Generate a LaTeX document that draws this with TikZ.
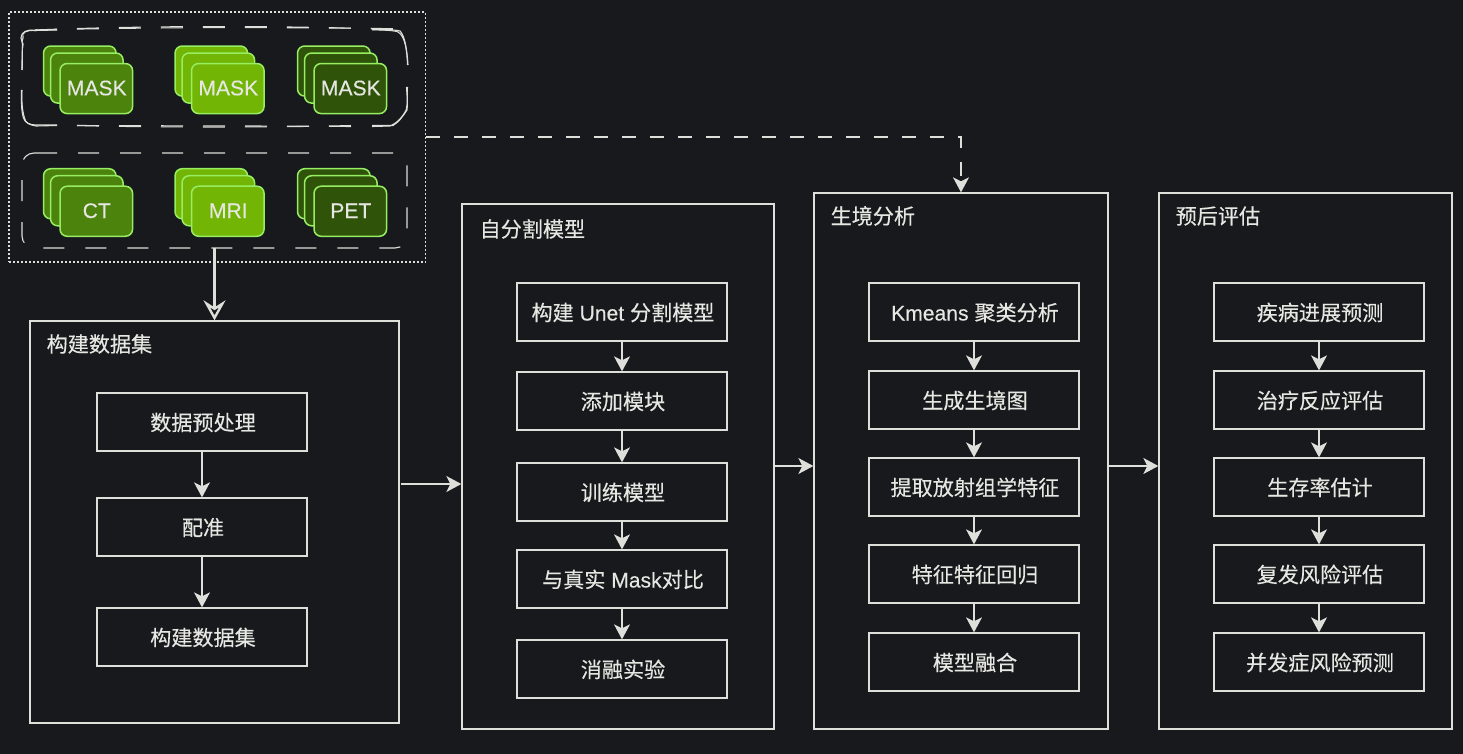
\documentclass[tikz,border=0pt]{standalone}
\usepackage{fontspec}
\setmainfont{Liberation Sans}[UprightFeatures={FakeBold=0.25}]
\newfontfamily\cjk{Noto Sans CJK SC}[UprightFeatures={FakeBold=0.3}]
\newcommand{\zh}[1]{{\cjk #1}}
\usetikzlibrary{arrows.meta}
\definecolor{pagebg}{HTML}{18191C}
\definecolor{inkline}{HTML}{DEDEDA}
\definecolor{inktext}{HTML}{E6E6E2}
\definecolor{limeedge}{HTML}{97EE62}
\definecolor{limemid}{HTML}{4B830D}
\definecolor{limelight}{HTML}{72B505}
\definecolor{limedark}{HTML}{2F5409}
\tikzset{
  every node/.style={font=\fontsize{21.1}{25}\selectfont, text=inktext},
  panelbox/.style={draw=inkline, line width=1.3pt, inner sep=0pt},
  stepbox/.style={draw=inkline, line width=1.3pt, minimum width=210pt, minimum height=58pt, inner sep=0pt, text height=19pt, text depth=2pt, execute at begin node={\hspace*{2pt}}},
  paneltitle/.style={anchor=west, inner sep=0pt, text height=20pt, text depth=2pt},
  scanbox/.style={draw=limeedge, line width=1.5pt, rounded corners=7pt, minimum width=72.5pt, minimum height=50pt, inner sep=0pt, text height=13.5pt, text depth=0pt, execute at begin node={\hspace*{1pt}}},
  flow/.style={draw=inkline, line width=1.2pt, -{Stealth[length=15pt,width=16pt,inset=4pt]}},
  sketchline/.style={draw=inkline, line width=1.1pt},
  sketchdash/.style={sketchline, dash pattern=on 22pt off 20pt},
}
\begin{document}
\begin{tikzpicture}[x=1pt,y=1pt,yscale=-1,xscale=1]
  \useasboundingbox (0,0) rectangle (1463,754);
  \fill[pagebg] (0,0) rectangle (1463,754);
  % dotted group
  \node[draw=inkline, line width=1.4pt, dash pattern=on 1.6pt off 2.4pt, minimum width=416.5pt, minimum height=250pt, inner sep=0pt] (frameOuter) at (217.25,137) {};
  % sketchy dashed group, two strokes each
  \foreach \jit in {0,1} {
    \draw[sketchdash] (35,30) .. controls (150,25.5+\jit*1.6) and (280,25.5+\jit*1.6) .. (393,29.5-\jit*0.8);
    \draw[sketchdash] (77,125.5) .. controls (150,127.5-\jit*1.6) and (280,127.5-\jit*1.6) .. (352,125.5+\jit*1);
    \draw[sketchline] (372,29.5+\jit*0.3) .. controls (385,30) and (395,29.5+\jit) .. (400-\jit*2,31+\jit) .. controls (405,36) and (407,50) .. (408-\jit*0.5,65);
    \draw[sketchline] (407.5-\jit,87) .. controls (407,95) and (408,103) .. (407-\jit*0.8,110) .. controls (403,116) and (399,122) .. (393-\jit*3,125.5+\jit*0.5) -- (372,125.5+\jit);
    \draw[sketchline] (21.5+\jit*0.5,90) .. controls (21.5,100) and (21+\jit,110) .. (23.5+\jit,118) .. controls (25,123) and (30,125) .. (36,125+\jit) -- (57,125+\jit*0.5);
    \draw[sketchline] (57,30-\jit*0.5) -- (35,30.5) .. controls (27,29+\jit) and (21,32) .. (21+\jit*2,38) .. controls (22-\jit,44) and (24-\jit,42) .. (22.5,47) .. controls (22,55) and (22+\jit,62) .. (22,70);
  }
  \draw[draw=inkline, line width=1.1pt, dash pattern=on 21pt off 21pt, rounded corners=12pt] (36,153) -- (407,153) -- (407,248) -- (22,248) -- (22,153) -- (36,153);
  % image stacks
  \foreach \stackname/\xleft/\ytop/\fillcol/\stacktext in {
    maskA/42.8/45.3/limemid/MASK, maskB/174.3/45.3/limelight/MASK, maskC/296.8/45.3/limedark/MASK,
    scanA/42.8/168/limemid/CT, scanB/174.3/168/limelight/MRI, scanC/296.8/168/limedark/PET} {
    \node[scanbox, fill=\fillcol, anchor=north west] (\stackname-back) at (\xleft,\ytop) {};
    \node[scanbox, fill=\fillcol, anchor=north west] (\stackname-mid) at (\xleft+7,\ytop+7) {};
    \node[scanbox, fill=\fillcol, anchor=north west] (\stackname-front) at (\xleft+16.5,\ytop+17.5) {\stacktext};
  }
  % panels
  \node[panelbox, minimum width=369pt, minimum height=402pt] (panelData) at (214.5,522) {};
  \node[panelbox, minimum width=312pt, minimum height=525pt] (panelSeg) at (618,466.5) {};
  \node[panelbox, minimum width=294pt, minimum height=536pt] (panelHab) at (961,461) {};
  \node[panelbox, minimum width=293pt, minimum height=536pt] (panelProg) at (1305.5,461) {};
  \node[paneltitle] (titleData) at (46.5,343) {\zh{构建数据集}};
  \node[paneltitle] (titleSeg) at (479.5,228) {\zh{自分割模型}};
  \node[paneltitle] (titleHab) at (830.5,215) {\zh{生境分析}};
  \node[paneltitle] (titleProg) at (1175.5,215) {\zh{预后评估}};
  % steps
  \node[stepbox] (dataA) at (202,422) {\zh{数据预处理}};
  \node[stepbox] (dataB) at (202,527) {\zh{配准}};
  \node[stepbox] (dataC) at (202,637) {\zh{构建数据集}};
  \node[stepbox] (segA) at (622,312) {\zh{构建} Unet \zh{分割模型}};
  \node[stepbox] (segB) at (622,401) {\zh{添加模块}};
  \node[stepbox] (segC) at (622,492) {\zh{训练模型}};
  \node[stepbox] (segD) at (622,579) {\zh{与真实} Mask\zh{对比}};
  \node[stepbox] (segE) at (622,669) {\zh{消融实验}};
  \node[stepbox] (habA) at (974,312) {Kmeans \zh{聚类分析}};
  \node[stepbox] (habB) at (974,400) {\zh{生成生境图}};
  \node[stepbox] (habC) at (974,487) {\zh{提取放射组学特征}};
  \node[stepbox] (habD) at (974,574) {\zh{特征特征回归}};
  \node[stepbox] (habE) at (974,662) {\zh{模型融合}};
  \node[stepbox] (progA) at (1319,312) {\zh{疾病进展预测}};
  \node[stepbox] (progB) at (1319,400) {\zh{治疗反应评估}};
  \node[stepbox] (progC) at (1319,487) {\zh{生存率估计}};
  \node[stepbox] (progD) at (1319,574) {\zh{复发风险评估}};
  \node[stepbox] (progE) at (1319,662) {\zh{并发症风险预测}};
  % arrows
  \foreach \from/\to in {dataA/dataB, dataB/dataC, segA/segB, segB/segC, segC/segD, segD/segE,
    habA/habB, habB/habC, habC/habD, habD/habE, progA/progB, progB/progC, progC/progD, progD/progE} {
    \draw[flow] (\from) -- (\to);
  }
  \coordinate (linkData) at (401,484);
  \coordinate (linkSeg) at (774,466);
  \coordinate (linkHab) at (1108,466);
  \coordinate (linkScan) at (214.5,248);
  \draw[flow] (linkData) -- (linkData -| panelSeg.west);
  \draw[flow] (linkSeg) -- (linkSeg -| panelHab.west);
  \draw[flow] (linkHab) -- (linkHab -| panelProg.west);
  \draw[flow, dash pattern=on 14pt off 14pt] (frameOuter.east) -| (panelHab.north);
  \draw[draw=inkline, line width=2.4pt, -{Stealth[length=20pt,width=22pt,inset=7pt,fill=pagebg]}] (linkScan) -- (panelData.north);
\end{tikzpicture}
\end{document}
